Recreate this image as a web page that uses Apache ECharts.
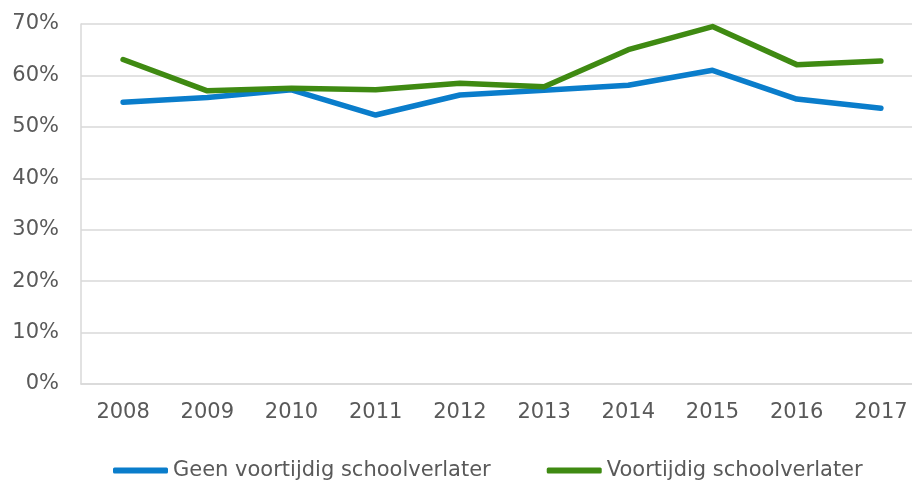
<!DOCTYPE html>
<html>
<head>
<meta charset="utf-8">
<script src="https://cdn.jsdelivr.net/npm/echarts@6/dist/echarts.min.js"></script>
<style>
  html, body { margin: 0; padding: 0; background: #ffffff; }
  #chart { width: 912px; height: 480px; }
</style>
</head>
<body>
<div id="chart"></div>
<script>
// Share (%) per year for each group
const years = ['2008', '2009', '2010', '2011', '2012', '2013', '2014', '2015', '2016', '2017'];
const geenVoortijdig = [54.8, 55.7, 57.2, 52.3, 56.2, 57.1, 58.1, 61.0, 55.4, 53.6];
const voortijdig = [63.1, 57.0, 57.5, 57.2, 58.5, 57.8, 65.0, 69.5, 62.1, 62.8];
const seriesNames = ['Geen voortijdig schoolverlater', 'Voortijdig schoolverlater'];

const FONT = 'DejaVu Sans, Verdana, sans-serif';
const TEXT = '#595959';
const GRID = '#d9d9d9';

const chart = echarts.init(document.getElementById('chart'), null, { renderer: 'canvas' });
chart.setOption({
  animation: false,
  backgroundColor: '#ffffff',
  // plot area runs slightly past the right edge of the canvas
  grid: { left: 81, width: 842, top: 24, bottom: 96, containLabel: false, outerBoundsMode: 'none' },
  legend: {
    left: 108,
    top: 455,
    itemWidth: 55,
    itemHeight: 6,
    itemGap: 56,
    icon: 'roundRect',
    textStyle: { fontFamily: FONT, fontSize: 21, color: TEXT },
    data: seriesNames
  },
  xAxis: {
    type: 'category',
    data: years,
    boundaryGap: true,
    axisLine: { show: true, lineStyle: { color: GRID, width: 1.5 } },
    axisTick: { show: false },
    axisLabel: { margin: 18, fontFamily: FONT, fontSize: 21, color: TEXT }
  },
  yAxis: {
    type: 'value',
    min: 0,
    max: 70,
    interval: 10,
    axisLine: { show: true, lineStyle: { color: GRID, width: 1.5 } },
    axisTick: { show: false },
    splitLine: { show: true, lineStyle: { color: GRID, width: 1.5 } },
    axisLabel: { margin: 22, fontFamily: FONT, fontSize: 21, color: TEXT, formatter: '{value}%' }
  },
  series: [
    {
      name: seriesNames[0],
      type: 'line',
      data: geenVoortijdig,
      symbol: 'none',
      color: '#0a7dcb',
      lineStyle: { width: 5.5, color: '#0a7dcb', cap: 'round', join: 'round' }
    },
    {
      name: seriesNames[1],
      type: 'line',
      data: voortijdig,
      symbol: 'none',
      color: '#3f8a12',
      lineStyle: { width: 5.5, color: '#3f8a12', cap: 'round', join: 'round' }
    }
  ]
});
</script>
</body>
</html>
